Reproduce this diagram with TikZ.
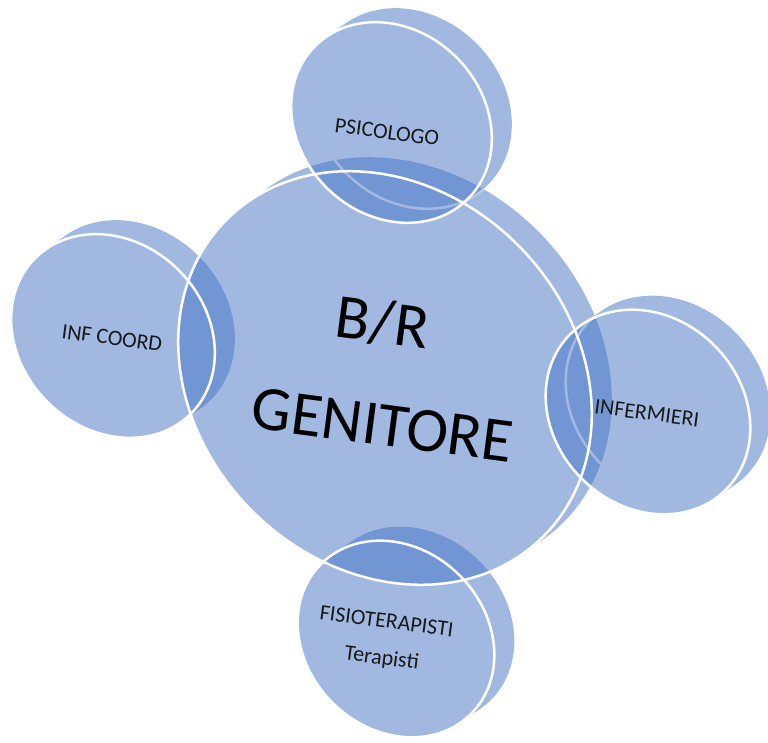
\documentclass[tikz,border=0pt]{standalone}
\usepackage{fontspec}
\setmainfont{Carlito}
\usetikzlibrary{positioning}
\usetikzlibrary{shapes}
\definecolor{discblue}{HTML}{4472C4}

% extruded disc: centre, x radius, y radius
\newcommand{\discbody}[3]{%
  \fill[body, shift={(#1)}, rotate=-45] (0,0) ellipse[x radius=#2, y radius=#3]
    \foreach \k in {1,...,6}{(\k*0.707,\k*4.007) ellipse[x radius=#2, y radius=#3]};}
% rear rim of a disc
\newcommand{\discback}[3]{%
  \draw[backline, shift={(#1)}, rotate=-45] (4.24,24.04) ellipse[x radius=#2, y radius=#3];}

\begin{document}
\begin{tikzpicture}[x=1pt, y=1pt,
             body/.style={fill=discblue, fill opacity=0.5},
             backline/.style={draw=white, line width=2.5pt, opacity=0.35},
             face/.style={ellipse, draw=white, line width=2.5pt, rotate=-45,
                inner sep=0pt, outer sep=0pt},
             bigtext/.style={font=\fontsize{63}{63}\selectfont, text=black,
                rotate=-7.5, anchor=base, inner sep=0pt},
             disctext/.style={font=\fontsize{22}{37}\selectfont, text=black!90,
                rotate=-7.5, align=center, inner sep=0pt},
          ]
          \useasboundingbox (0,0) rectangle (768,742);

          \discbody{385,364}{224}{188}
          \discbody{391.5,619.5}{108}{92}
          \discbody{113,406}{110}{93}
          \discbody{648,330}{110}{94}
          \discbody{396,103}{106}{90}

          \begin{scope}
            \clip[shift={(385,364)}, rotate=-45] (0,0) ellipse[x radius=224, y radius=188]
              (4.24,24.04) ellipse[x radius=224, y radius=188];
            \discback{391.5,619.5}{108}{92}
            \discback{648,330}{110}{94}
          \end{scope}

          \node[face, minimum width=448pt, minimum height=376pt] at (385,364) (gen) {};
          \node[face, minimum width=216pt, minimum height=184pt] at (391.5,619.5) (psi) {};
          \node[face, minimum width=220pt, minimum height=186pt] at (113,406) (coord) {};
          \node[face, minimum width=220pt, minimum height=188pt] at (648,330) (inf) {};
          \node[face, minimum width=212pt, minimum height=180pt] at (396,103) (fisio) {};

          \node[bigtext] at (380,399) (br) {B/R};
          \node[bigtext] at (380,297) (genitore) {GENITORE};
          \node[disctext] at (387,610) (psitext) {PSICOLOGO};
          \node[disctext] at (112,404) (coordtext) {INF COORD};
          \node[disctext] at (647,329) (inftext) {INFERMIERI};
          \node[disctext] at (384,101) (fisiotext) {FISIOTERAPISTI\\Terapisti};

       \end{tikzpicture}
\end{document}
